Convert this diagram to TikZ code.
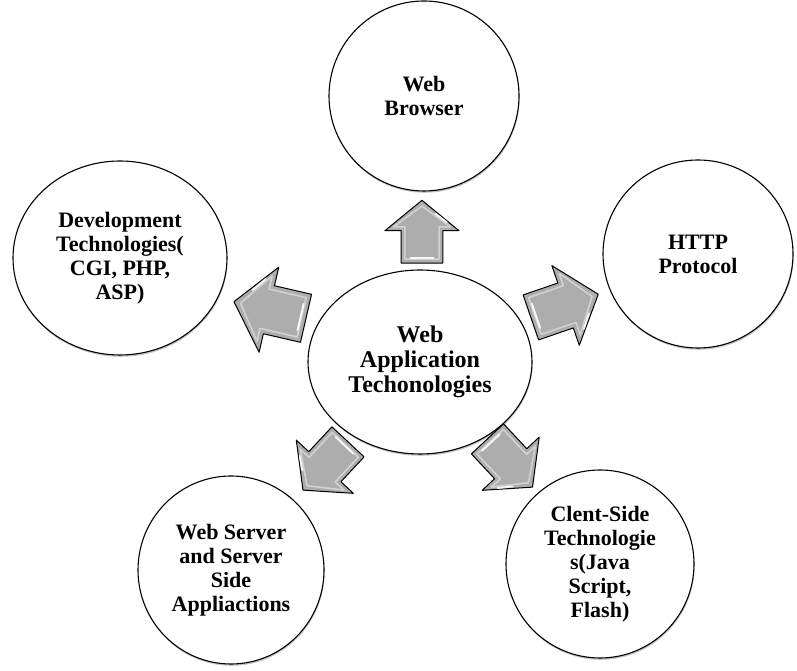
\documentclass[tikz,border=0pt]{standalone}
\usepackage{fontspec}
\setmainfont{Liberation Serif}
\usetikzlibrary{shapes.geometric, shadows, calc}

\begin{document}
\begin{tikzpicture}[x=1pt, y=1pt,
    % Styles
    bubble/.style={
        ellipse,
        draw=black,
        line width=1.1pt,
        fill=white,
        inner sep=0pt,
        align=center,
        font=\fontsize{22}{24}\selectfont\bfseries,
        drop shadow={shadow xshift=0.6pt, shadow yshift=-1.8pt, opacity=0.45}
    },
    hub/.style={bubble, font=\fontsize{24}{25}\selectfont\bfseries},
    arrowbody/.style={fill=black!32, draw=black, line width=1pt, line join=round},
    arrowbevel/.style={draw=white, line width=1.6pt, opacity=0.45, line join=round},
    arrowshine/.style={draw=white, line width=1.8pt, line cap=round, opacity=0.9},
    pics/blockarrow/.style={code={
        \draw[arrowbody] (-33,-22) -- (1,-22) -- (1,-39) -- (33,0) -- (1,39) -- (1,22) -- (-33,22) -- cycle;
        \draw[arrowbevel] (-29,-18) -- (5,-18) -- (5,-30) -- (27,0) -- (5,30) -- (5,18) -- (-29,18) -- cycle;
        \draw[arrowshine] (-28,-12) -- (-28,12);
        \draw[arrowshine] (10,-26) -- (19,-14);
    }}
]
\useasboundingbox (0,0) rectangle (797,671);

% Centre
\node[hub, minimum width=224pt, minimum height=184pt] (core) at (420,309)
    {Web\\Application\\Techonologies};

% Outer circles
\node[bubble, minimum width=190pt, minimum height=190pt] (browser) at (424,575)
    {Web\\Browser};
\node[bubble, minimum width=214pt, minimum height=194pt] (devtech) at (120,413)
    {Development\\Technologies(\\CGI, PHP,\\ASP)};
\node[bubble, minimum width=190pt, minimum height=188pt] (http) at (698,417)
    {HTTP\\Protocol};
\node[bubble, minimum width=186pt, minimum height=188pt] (server) at (231,101)
    {Web Server\\and Server\\Side\\Appliactions};
\node[bubble, minimum width=188pt, minimum height=188pt] (client) at (600,107)
    {Clent-Side\\Technologie\\s(Java\\Script,\\Flash)};

% Block arrows
\pic[rotate=90, scale=0.95] (upArrow) at ($(core)!0.49!(browser)$) {blockarrow};
\pic[rotate=167, scale=1.12] (devArrow) at ($(core)!0.5!(devtech)$) {blockarrow};
\pic[rotate=19, scale=1.08] (httpArrow) at ($(core)!0.52!(http)$) {blockarrow};
\pic[rotate=227] (serverArrow) at ($(core)!0.5!(server)$) {blockarrow};
\pic[rotate=-47] (clientArrow) at ($(core)!0.5!(client)$) {blockarrow};

\end{tikzpicture}
\end{document}
